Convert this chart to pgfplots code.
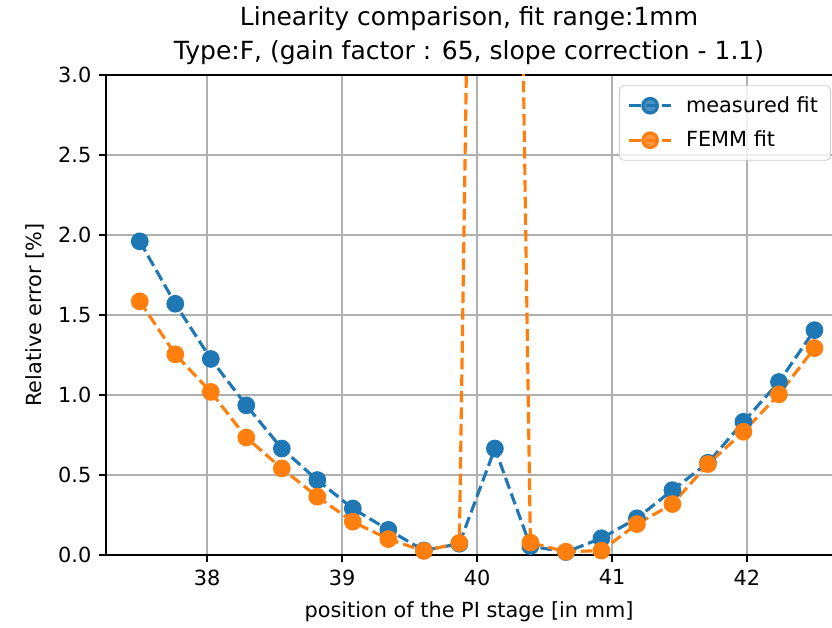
\documentclass[border=0pt]{standalone}
\usepackage{fontspec}
\setmainfont{DejaVu Sans}
\usepackage{pgfplots}
\pgfplotsset{compat=1.18}

\definecolor{mplblue}{HTML}{1F77B4}
\definecolor{mplorange}{HTML}{FF7F0E}
\definecolor{gridgray}{HTML}{B0B0B0}

\begin{document}
\begin{tikzpicture}
\begin{axis}[
    scale only axis,
    width=348.5pt, height=230.4pt,
    xmin=37.25, xmax=42.63,
    ymin=0, ymax=3,
    % the reference is cut off on the right: no right spine
    axis x line*=box, axis y line*=left,
    xtick={38,39,40,41,42},
    ytick={0,0.5,1,1.5,2,2.5,3},
    yticklabel style={/pgf/number format/fixed, /pgf/number format/fixed zerofill, /pgf/number format/precision=1},
    /pgf/number format/assume math mode=true,
    tick align=outside,
    xtick pos=bottom, ytick pos=left,
    major tick length=3.5pt,
    tick style={black, line width=0.8pt},
    axis line style={black, line width=0.8pt},
    grid=major,
    grid style={gridgray, line width=0.8pt},
    tick label style={font=\fontsize{10}{12}\selectfont},
    label style={font=\fontsize{10}{12}\selectfont},
    xlabel={position of the PI stage [in mm]},
    xlabel style={yshift=-1pt},
    ylabel={Relative error [\%]},
    title={Linearity comparison, fit range:1mm\\Type:F, (gain factor : 65, slope correction - 1.1)},
    title style={font=\fontsize{12}{16.3}\selectfont, align=center, yshift=-4.5pt},
    legend style={at={(1,1)}, anchor=north east, xshift=-0.5pt, yshift=-5pt,
        draw=black!20, rounded corners=2pt, fill=white, fill opacity=0.8, text opacity=1,
        font=\fontsize{10}{12}\selectfont, inner xsep=4pt, inner ysep=3pt, row sep=3.5pt,
        cells={anchor=west},
        /tikz/every odd column/.append style={column sep=4.5pt}},
    legend image code/.code={\draw[mark repeat=2, mark phase=2] plot coordinates {(0pt,0pt) (10pt,0pt) (20pt,0pt)};},
]
% measured fit
\addplot[mplblue, line width=1.5pt, dash pattern=on 5.55pt off 2.4pt, mark=*, mark size=3.5pt, mark options={solid}] coordinates {
    (37.5,1.96) (37.7632,1.57) (38.0263,1.225) (38.2895,0.935) (38.5526,0.665)
    (38.8158,0.468) (39.0789,0.29) (39.3421,0.157) (39.6053,0.028) (39.8684,0.07)
    (40.1316,0.665) (40.3947,0.055) (40.6579,0.018) (40.9211,0.104) (41.1842,0.229)
    (41.4474,0.405) (41.7105,0.576) (41.9737,0.832) (42.2368,1.081) (42.5,1.405)
};
% FEMM fit
\addplot[mplorange, line width=1.5pt, dash pattern=on 5.55pt off 2.4pt, mark=*, mark size=3.5pt, mark options={solid}] coordinates {
    (37.5,1.585) (37.7632,1.254) (38.0263,1.019) (38.2895,0.734) (38.5526,0.541)
    (38.8158,0.364) (39.0789,0.208) (39.3421,0.099) (39.6053,0.025) (39.8684,0.075)
    (40.1316,15) (40.3947,0.077) (40.6579,0.02) (40.9211,0.027) (41.1842,0.193)
    (41.4474,0.318) (41.7105,0.568) (41.9737,0.77) (42.2368,1.004) (42.5,1.293)
};
\legend{measured fit, FEMM fit}
\end{axis}
\pgfresetboundingbox
\path[use as bounding box] (-50.9pt,-35pt) rectangle (348.5pt,266.4pt);
\end{tikzpicture}
\end{document}
